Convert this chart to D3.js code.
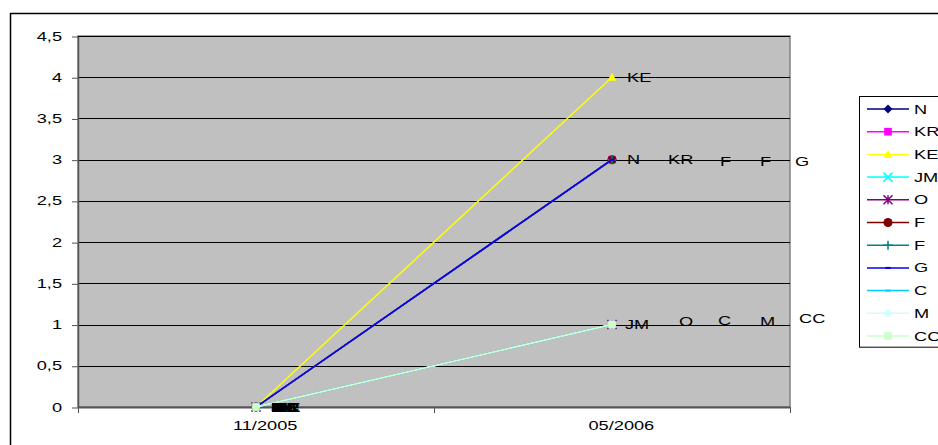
<!DOCTYPE html>
<html><head><meta charset="utf-8">
<script src="https://cdn.jsdelivr.net/npm/d3@7"></script>
<style>body{margin:0;background:#fff}svg{display:block;font-family:Arial,"Liberation Sans",sans-serif}</style>
</head><body><svg id="c" width="938" height="445"></svg>
<script>
const categories = ["11/2005", "05/2006"];
const seriesNames = ["N", "KR", "KE", "JM", "O", "F", "F", "G", "C", "M", "CC"];
const values = [
  [0, 3], [0, 3], [0, 4], [0, 1], [0, 1], [0, 3], [0, 3], [0, 3], [0, 1], [0, 1], [0, 1]
];
const colors = ["#000080", "#FF00FF", "#FFFF00", "#00FFFF", "#800080", "#800000", "#008080", "#0000FF", "#00CCFF", "#CCFFFF", "#CCFFCC"];
const markers = ["diamond", "square", "triangle", "x", "star", "circle", "plus", "dash", "dash", "diamond", "square"];
const yTicks = [0, 0.5, 1, 1.5, 2, 2.5, 3, 3.5, 4, 4.5];
// label offsets (px) at the last point, to avoid overlap like the original
const labelDx = [15, 56, 15, 13, 67, 108, 148, 183, 106, 148, 187];
const labelDy = [0, 0, 0, 0, -3, 2, 2, 2, -4, -3.5, -6.5];

const SX = 1.4; // horizontal stretch of the original's text
const svg = d3.select("#c");
const L = 78, R = 790, T = 36, B = 407;
const x = d3.scaleBand().domain(categories).range([L, R]);
const y = d3.scaleLinear().domain([0, 4.5]).range([B, T]);

function stext(parent, tx, ty, str, anchor, opts = {}) {
  const t = parent.append("text")
    .attr("transform", `translate(${tx},${ty}) scale(${SX},1)`)
    .attr("text-anchor", anchor || "start").attr("dy", "0.35em")
    .attr("font-size", 13).attr("fill", "#000").text(str);
  if (opts.bold) t.attr("font-weight", "bold");
  return t;
}

// outer chart border
svg.append("rect").attr("x", 10.5).attr("y", 13.5).attr("width", 1000).attr("height", 500)
  .attr("fill", "none").attr("stroke", "#000").attr("stroke-width", 1.5);

// plot area
svg.append("rect").attr("x", L).attr("y", T).attr("width", R - L).attr("height", B - T)
  .attr("fill", "#C0C0C0").attr("stroke", "#808080").attr("stroke-width", 1.5);

// gridlines
svg.append("g").selectAll("line").data(yTicks.filter(d => d > 0)).join("line")
  .attr("x1", L).attr("x2", R).attr("y1", d => Math.round(y(d)) + 0.5).attr("y2", d => Math.round(y(d)) + 0.5)
  .attr("stroke", "#000").attr("stroke-width", 1);

// y axis
const fmt = d => String(d).replace(".", ",");
const yAxis = svg.append("g").attr("transform", `translate(${L},0.5)`)
  .call(d3.axisLeft(y).tickValues(yTicks).tickSize(6).tickSizeOuter(0).tickFormat(""));
yAxis.select(".domain").attr("stroke", "#555").attr("stroke-width", 1.5);
yAxis.selectAll(".tick line").attr("stroke", "#555");
yTicks.forEach(v => stext(svg, 62, y(v), fmt(v), "end"));

// x axis
const xAxis = svg.append("g").attr("transform", `translate(0,${B})`);
xAxis.append("line").attr("x1", L).attr("x2", R).attr("y1", 0.5).attr("y2", 0.5).attr("stroke", "#555").attr("stroke-width", 2);
const tickPos = [L, ...categories.map(c => x(c) + x.bandwidth())];
xAxis.selectAll(".xt").data(tickPos).join("line").attr("class", "xt")
  .attr("x1", d => Math.round(d) + 0.5).attr("x2", d => Math.round(d) + 0.5).attr("y1", 0).attr("y2", 6).attr("stroke", "#555");
categories.forEach(c => {
  const tmp = svg.append("text").attr("font-size", 13).text(c);
  const w = tmp.node().getComputedTextLength(); tmp.remove();
  stext(svg, x(c) + x.bandwidth() / 2 - w / 2, B + 18, c, "start");
});

function markerPath(type, s) {
  const h = s / 2;
  switch (type) {
    case "diamond": return `M0,${-h}L${h},0L0,${h}L${-h},0Z`;
    case "square": return `M${-h*0.85},${-h*0.85}h${s*0.85}v${s*0.85}h${-s*0.85}Z`;
    case "triangle": return `M0,${-h}L${h},${h*0.8}L${-h},${h*0.8}Z`;
    case "x": return `M${-h},${-h}L${h},${h}M${-h},${h}L${h},${-h}`;
    case "star": return `M${-h},${-h}L${h},${h}M${-h},${h}L${h},${-h}M0,${-h}L0,${h}`;
    case "plus": return `M${-h},0L${h},0M0,${-h}L0,${h}`;
    case "dash": return `M${-h*0.6},-1h${s*0.6}v2h${-s*0.6}Z`;
    case "circle": return `M${h},0A${h},${h} 0 1,1 ${-h},0A${h},${h} 0 1,1 ${h},0Z`;
  }
}
const strokeMarker = t => t === "x" || t === "star" || t === "plus";

const line = d3.line().x((d, i) => x(categories[i]) + x.bandwidth() / 2).y(d => y(d));

seriesNames.forEach((name, si) => {
  const g = svg.append("g");
  g.append("path").attr("d", line(values[si])).attr("fill", "none").attr("stroke", colors[si]).attr("stroke-width", 1.5);
  values[si].forEach((v, i) => {
    g.append("path").attr("transform", `translate(${x(categories[i]) + x.bandwidth() / 2},${y(v)})`)
      .attr("d", markerPath(markers[si], 9))
      .attr("fill", strokeMarker(markers[si]) ? "none" : colors[si])
      .attr("stroke", strokeMarker(markers[si]) ? colors[si] : "none").attr("stroke-width", 1.5);
  });
});

// data labels
seriesNames.forEach((name, si) => {
  values[si].forEach((v, i) => {
    const cx = x(categories[i]) + x.bandwidth() / 2;
    const dx = i === 0 ? 15 + (si % 3) * 2 : labelDx[si];
    const dy = i === 0 ? 0 : labelDy[si];
    stext(svg, cx + dx, y(v) + dy, name, "start", { bold: i === 0 });
  });
});

// legend
const lg = svg.append("g");
const lx = 859, ly = 96, lh = 22.7;
lg.append("rect").attr("x", lx + 0.5).attr("y", ly + 0.5).attr("width", 200).attr("height", seriesNames.length * lh + 1)
  .attr("fill", "#fff").attr("stroke", "#000").attr("stroke-width", 1);
seriesNames.forEach((name, si) => {
  const cy = ly + 13 + si * lh;
  lg.append("line").attr("x1", lx + 8).attr("x2", lx + 50).attr("y1", cy).attr("y2", cy).attr("stroke", colors[si]).attr("stroke-width", 1.5);
  lg.append("path").attr("transform", `translate(${lx + 29},${cy})`).attr("d", markerPath(markers[si], 9))
    .attr("fill", strokeMarker(markers[si]) ? "none" : colors[si])
    .attr("stroke", strokeMarker(markers[si]) ? colors[si] : "none").attr("stroke-width", 1.5);
  stext(lg, lx + 55, cy, name, "start");
});
</script></body></html>
